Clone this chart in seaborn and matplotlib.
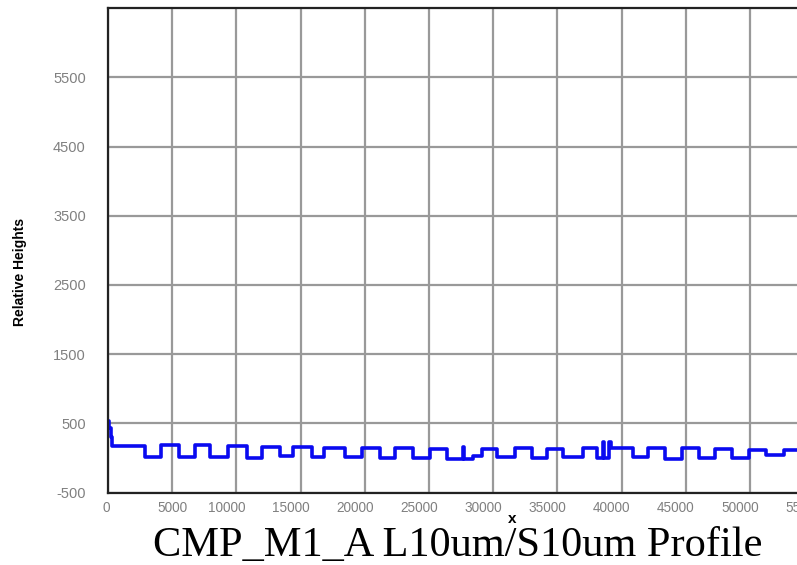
import matplotlib
matplotlib.use('Agg')
import matplotlib.pyplot as plt
import matplotlib.transforms as mtransforms
import seaborn as sns
import pandas as pd

# Perfil: inicio de cada patamar (x) e altura relativa do patamar
step_x = [0, 60, 200, 288, 2843, 4104, 5529, 6776, 7944, 9322, 10802, 11970,
          13395, 14431, 15864, 16845, 18457, 19758, 21183, 22352, 23777,
          25077, 26378, 27620, 27740, 28400, 29104, 30272, 31697, 32998,
          34166, 35435, 37016, 38060, 38530, 38620, 39040, 39150, 40911,
          42079, 43380, 44704, 46004, 47274, 48598, 49898, 51245, 52624, 56000]
step_y = [540, 430, 300, 176, 18, 186, 18, 186, 18, 176, 3, 162,
          33, 157, 18, 143, 18, 143, 3, 143, 3,
          133, -12, 160, -12, 30, 133, 18, 143, 3,
          133, 18, 143, 0, 230, 0, 230, 143, 18,
          143, -12, 143, 3, 133, 3, 120, 40, 120, 120]

x_ticks = list(range(0, 55001, 5000))
y_ticks = list(range(-500, 5501, 1000))
titulo = 'CMP_M1_A L10um/S10um Profile'

df = pd.DataFrame({'x': step_x, 'altura': step_y})

sns.set_style('white')
plt.rcParams['font.family'] = ['Liberation Sans', 'DejaVu Sans']

fig = plt.figure(figsize=(7.97, 5.65), dpi=100)
ax = fig.add_axes([108 / 797, 1 - 492.5 / 565, 706.2 / 797, 484.4 / 565])

sns.lineplot(data=df, x='x', y='altura', ax=ax, estimator=None, sort=False,
             drawstyle='steps-post', color='#0a0af0', linewidth=2.6)

ax.set_xlim(0, 55000)
ax.set_ylim(-500, 6500)
ax.set_xticks(x_ticks)
ax.set_yticks(y_ticks)
ax.set_xticklabels([str(v) for v in x_ticks])
ax.set_yticklabels([str(v) for v in y_ticks])
ax.grid(True, color='#999999', linewidth=1.6)
ax.set_axisbelow(True)
ax.tick_params(axis='both', length=0, colors='#808080')
ax.tick_params(axis='y', pad=16, labelsize=10.5)
ax.tick_params(axis='x', pad=6, labelsize=9.8)
for lado in ['left', 'top', 'bottom']:
    ax.spines[lado].set_color('#222222')
    ax.spines[lado].set_linewidth(1.6)
ax.spines['right'].set_visible(False)
ax.set_xlabel('')
ax.set_ylabel('')

# rotulos de 5 digitos ficam um pouco deslocados para a esquerda na original
fig.canvas.draw()
for lbl in ax.get_xticklabels():
    n = len(lbl.get_text())
    dx = -10 if n >= 5 else (-2 if n == 1 else 0)
    lbl.set_transform(lbl.get_transform() +
                      mtransforms.ScaledTranslation(dx / 100, 0, fig.dpi_scale_trans))

fig.text(20 / 797, 1 - 272 / 565, 'Relative Heights', rotation=90,
         ha='center', va='center', fontsize=10, fontweight='bold', color='black')
fig.text(512 / 797, 1 - 519 / 565, 'x', ha='center', va='center',
         fontsize=11, fontweight='bold', color='black')
fig.text(458 / 797, 1 - 556 / 565, titulo, ha='center', va='baseline',
         fontsize=30.5, family=['Liberation Serif', 'DejaVu Serif'], color='black')

plt.savefig('out.png', dpi=100)
